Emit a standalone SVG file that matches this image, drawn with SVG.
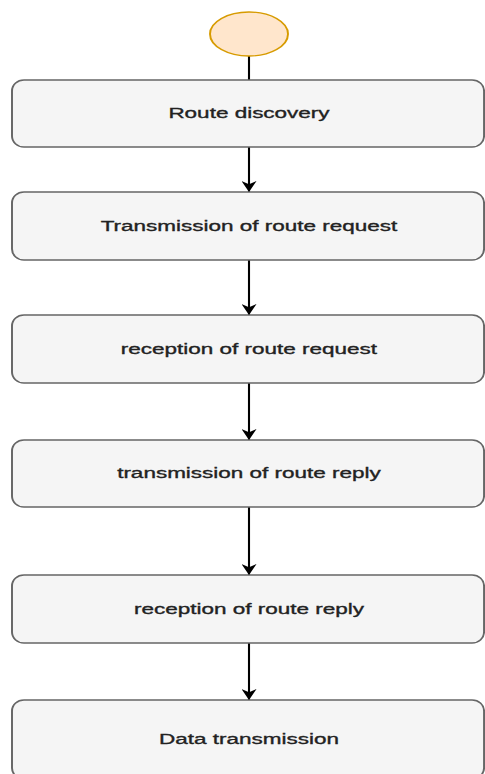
<svg xmlns="http://www.w3.org/2000/svg" width="485" height="774" viewBox="0 0 485 774">
  <style>
    .box { fill: #f5f5f5; stroke: #666666; stroke-width: 1.3; }
    .start { fill: #ffe6cc; stroke: #d79b00; stroke-width: 1.3; }
    .label { font-family: "Liberation Sans", Arial, sans-serif; font-size: 15px; fill: #222222; stroke: #222222; stroke-width: 0.35; text-anchor: middle; }
    .edge { fill: none; stroke: #000000; stroke-width: 1.4; }
  </style>
  <defs>
    <marker id="arrow" viewBox="0 0 10 10" preserveAspectRatio="none" refX="10" refY="5" markerWidth="11" markerHeight="10" markerUnits="userSpaceOnUse" orient="auto">
      <path d="M0,0 L10,5 L0,10 L3,5 Z" fill="#000000"/>
    </marker>
  </defs>
  <rect width="485" height="774" fill="#ffffff"/>
  <!-- whole flow is laid out on a horizontally stretched grid -->
  <g transform="scale(1.5 1)">
    <g id="connectors">
      <line class="edge" x1="166" y1="56" x2="166" y2="80"/>
      <line class="edge" x1="166" y1="147" x2="166" y2="192" marker-end="url(#arrow)"/>
      <line class="edge" x1="166" y1="260" x2="166" y2="315" marker-end="url(#arrow)"/>
      <line class="edge" x1="166" y1="383" x2="166" y2="440" marker-end="url(#arrow)"/>
      <line class="edge" x1="166" y1="507" x2="166" y2="575" marker-end="url(#arrow)"/>
      <line class="edge" x1="166" y1="643" x2="166" y2="700" marker-end="url(#arrow)"/>
    </g>
    <g id="start">
      <ellipse class="start" cx="166" cy="34" rx="26" ry="22"/>
    </g>
    <g id="route-discovery">
      <rect class="box" x="8" y="80" width="314.7" height="67" rx="8" ry="11"/>
      <text class="label" x="166" y="118.5">Route discovery</text>
    </g>
    <g id="transmission-route-request">
      <rect class="box" x="8" y="192" width="314.7" height="68" rx="8" ry="11"/>
      <text class="label" x="166" y="231">Transmission of route request</text>
    </g>
    <g id="reception-route-request">
      <rect class="box" x="8" y="315" width="314.7" height="68" rx="8" ry="11"/>
      <text class="label" x="166" y="354">reception of route request</text>
    </g>
    <g id="transmission-route-reply">
      <rect class="box" x="8" y="440" width="314.7" height="67" rx="8" ry="11"/>
      <text class="label" x="166" y="478">transmission of route reply</text>
    </g>
    <g id="reception-route-reply">
      <rect class="box" x="8" y="575" width="314.7" height="68" rx="8" ry="11"/>
      <text class="label" x="166" y="614">reception of route reply</text>
    </g>
    <g id="data-transmission">
      <rect class="box" x="8" y="700" width="314.7" height="79" rx="8" ry="11"/>
      <text class="label" x="166" y="744">Data transmission</text>
    </g>
  </g>
</svg>
